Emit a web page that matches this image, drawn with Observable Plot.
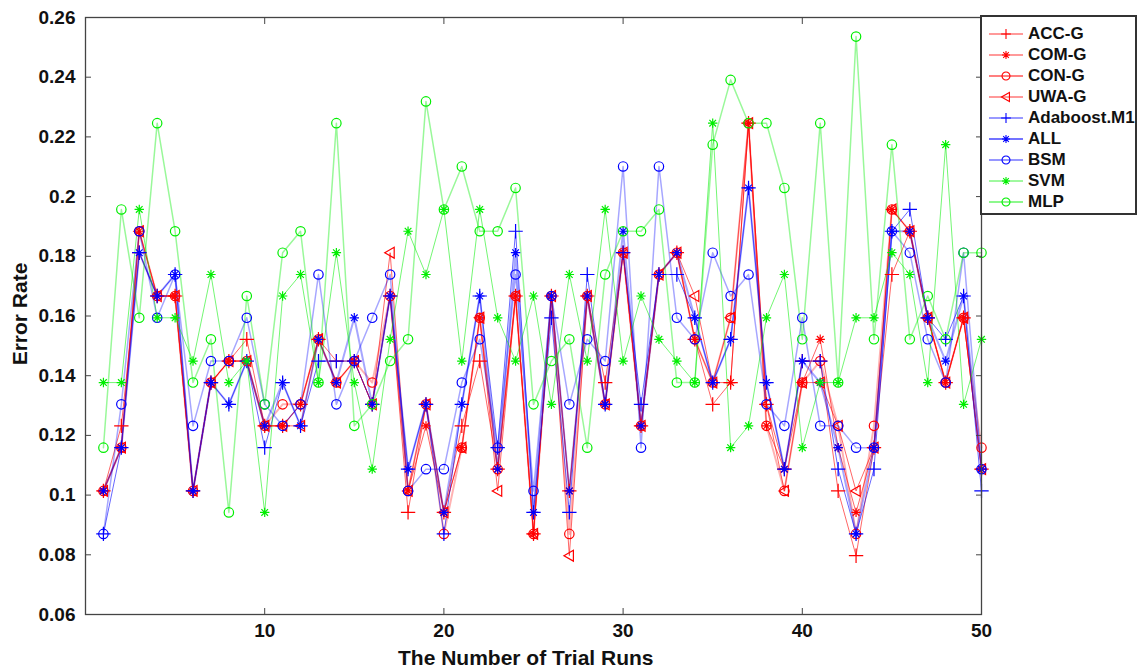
<!DOCTYPE html>
<html><head><meta charset="utf-8">
<script src="https://cdn.jsdelivr.net/npm/d3@7"></script>
<script src="https://cdn.jsdelivr.net/npm/@observablehq/plot@0.6"></script>
<style>
body{margin:0;background:#fff;}
#wrap{position:relative;width:1137px;height:672px;font-family:"Liberation Sans",Arial,sans-serif;font-weight:bold;}
#chart{position:absolute;left:0;top:0;}
.lab{position:absolute;font-size:21px;color:#111;white-space:nowrap;}
#legend{position:absolute;left:980px;top:15px;width:153px;height:196px;border:2px solid #333;background:#fff;}
.row{position:absolute;left:0;height:21px;display:flex;align-items:center;font-size:17px;color:#111;}
.row svg{margin-left:6px;margin-right:4px;}
</style></head><body>
<div id="wrap"><div id="chart"></div>
<div class="lab" id="ylab" style="left:-31px;top:302px;transform:rotate(-90deg);">Error Rate</div>
<div class="lab" id="xlab" style="left:398px;top:646px;">The Number of Trial Runs</div>
<div id="legend"></div>
</div>
<script>
const runs = [1,2,3,4,5,6,7,8,9,10,11,12,13,14,15,16,17,18,19,20,21,22,23,24,25,26,27,28,29,30,31,32,33,34,35,36,37,38,39,40,41,42,43,44,45,46,47,48,49,50];
const xTicks = [10,20,30,40,50];
const yTicks = [0.06,0.08,0.1,0.12,0.14,0.16,0.18,0.2,0.22,0.24,0.26];
const seriesNames = ["ACC-G","COM-G","CON-G","UWA-G","Adaboost.M1","ALL","BSM","SVM","MLP"];

const accG = [0.1014,0.1232,0.1812,0.1667,0.1667,0.1014,0.1377,0.1449,0.1522,0.1232,
              0.1232,0.1304,0.1522,0.1449,0.1449,0.1304,0.1667,0.0942,0.1304,0.0942,
              0.1232,0.1449,0.1087,0.1667,0.0870,0.1667,0.1014,0.1667,0.1377,0.1812,
              0.1232,0.1739,0.1812,0.1522,0.1304,0.1377,0.2246,0.1304,0.1087,0.1449,
              0.1449,0.1014,0.0797,0.1159,0.1739,0.1884,0.1594,0.1377,0.1594,0.1087];
const comG = [0.1014,0.1159,0.1884,0.1667,0.1667,0.1014,0.1377,0.1449,0.1449,0.1232,
              0.1232,0.1304,0.1522,0.1377,0.1449,0.1304,0.1667,0.1014,0.1232,0.0942,
              0.1159,0.1594,0.1087,0.1667,0.0870,0.1667,0.1014,0.1667,0.1304,0.1812,
              0.1232,0.1739,0.1812,0.1522,0.1377,0.1377,0.2246,0.1232,0.1087,0.1377,
              0.1522,0.1159,0.0942,0.1159,0.1957,0.1884,0.1594,0.1377,0.1594,0.1087];
const conG = [0.1014,0.1159,0.1884,0.1667,0.1667,0.1014,0.1377,0.1449,0.1449,0.1232,
              0.1304,0.1304,0.1522,0.1377,0.1449,0.1377,0.1667,0.1014,0.1304,0.0870,
              0.1159,0.1594,0.1087,0.1667,0.0870,0.1667,0.0870,0.1667,0.1304,0.1812,
              0.1232,0.1739,0.1812,0.1522,0.1377,0.1594,0.2246,0.1232,0.1014,0.1377,
              0.1449,0.1232,0.0870,0.1232,0.1957,0.1884,0.1594,0.1377,0.1594,0.1159];
const uwaG = [0.1014,0.1159,0.1884,0.1667,0.1667,0.1014,0.1377,0.1449,0.1449,0.1232,
              0.1232,0.1232,0.1522,0.1377,0.1449,0.1304,0.1812,0.1014,0.1304,0.0942,
              0.1159,0.1594,0.1014,0.1667,0.0870,0.1667,0.0797,0.1667,0.1304,0.1812,
              0.1232,0.1739,0.1812,0.1667,0.1377,0.1594,0.2246,0.1304,0.1014,0.1377,
              0.1377,0.1232,0.1014,0.1159,0.1957,0.1884,0.1594,0.1377,0.1594,0.1087];
const adaboost = [0.0870,0.1159,0.1812,0.1667,0.1739,0.1014,0.1377,0.1304,0.1449,0.1159,
              0.1377,0.1232,0.1449,0.1449,0.1449,0.1304,0.1667,0.1087,0.1304,0.0870,
              0.1304,0.1667,0.1159,0.1884,0.0942,0.1594,0.0942,0.1739,0.1304,0.1812,
              0.1304,0.1739,0.1739,0.1594,0.1377,0.1522,0.2029,0.1377,0.1087,0.1449,
              0.1449,0.1087,0.0870,0.1087,0.1884,0.1957,0.1594,0.1522,0.1667,0.1014];
const allS = [0.1014,0.1159,0.1812,0.1667,0.1739,0.1014,0.1377,0.1304,0.1449,0.1232,
              0.1377,0.1232,0.1522,0.1377,0.1594,0.1304,0.1667,0.1087,0.1304,0.0942,
              0.1304,0.1667,0.1087,0.1812,0.0942,0.1667,0.1014,0.1667,0.1304,0.1884,
              0.1232,0.1739,0.1812,0.1594,0.1377,0.1522,0.2029,0.1377,0.1087,0.1449,
              0.1377,0.1159,0.0870,0.1159,0.1884,0.1884,0.1594,0.1449,0.1667,0.1087];
const bsm = [0.0870,0.1304,0.1884,0.1594,0.1739,0.1232,0.1449,0.1449,0.1594,0.1304,
              0.1232,0.1304,0.1739,0.1304,0.1449,0.1594,0.1739,0.1014,0.1087,0.1087,
              0.1377,0.1522,0.1159,0.1739,0.1014,0.1667,0.1304,0.1522,0.1449,0.2101,
              0.1159,0.2101,0.1594,0.1522,0.1812,0.1667,0.1739,0.1304,0.1232,0.1594,
              0.1232,0.1232,0.1159,0.1159,0.1884,0.1812,0.1522,0.1377,0.1812,0.1087];
const svm = [0.1377,0.1377,0.1957,0.1594,0.1594,0.1449,0.1739,0.1377,0.1449,0.0942,
              0.1667,0.1739,0.1377,0.1812,0.1377,0.1087,0.1522,0.1884,0.1739,0.1957,
              0.1449,0.1957,0.1594,0.1449,0.1667,0.1304,0.1739,0.1449,0.1957,0.1449,
              0.1667,0.1522,0.1449,0.1377,0.2246,0.1159,0.1232,0.1594,0.1739,0.1159,
              0.1377,0.1377,0.1594,0.1594,0.1812,0.1739,0.1377,0.2174,0.1304,0.1522];
const mlp = [0.1159,0.1957,0.1594,0.2246,0.1884,0.1377,0.1522,0.0942,0.1667,0.1304,
              0.1812,0.1884,0.1377,0.2246,0.1232,0.1304,0.1449,0.1522,0.2319,0.1957,
              0.2101,0.1884,0.1884,0.2029,0.1304,0.1449,0.1522,0.1159,0.1739,0.1884,
              0.1884,0.1957,0.1377,0.1377,0.2174,0.2391,0.2246,0.2246,0.2029,0.1522,
              0.2246,0.1377,0.2536,0.1522,0.2174,0.1522,0.1667,0.1522,0.1812,0.1812];

const triangleLeft = {
  draw(ctx, size) {
    const r = Math.sqrt(size / Math.PI) * 1.15;
    ctx.moveTo(-r, 0); ctx.lineTo(r * 0.75, -r); ctx.lineTo(r * 0.75, r); ctx.closePath();
  }
};
const starSym = {
  draw(ctx, size) {
    const r = Math.sqrt(size / Math.PI);
    for (let i = 0; i < 4; i++) {
      const a = i * Math.PI / 4;
      ctx.moveTo(-r * Math.cos(a), -r * Math.sin(a));
      ctx.lineTo(r * Math.cos(a), r * Math.sin(a));
    }
  }
};

const styles = [
  {values: accG, color: "#ff0000", symbol: "plus", lw: 1, lo: 0.6},
  {values: comG, color: "#ff0000", symbol: starSym, lw: 1, lo: 0.6},
  {values: conG, color: "#ff0000", symbol: "circle", lw: 2, lo: 0.3},
  {values: uwaG, color: "#ff0000", symbol: triangleLeft, lw: 1, lo: 0.6},
  {values: adaboost, color: "#0000ff", symbol: "plus", lw: 1, lo: 0.6},
  {values: allS, color: "#0000ff", symbol: starSym, lw: 2, lo: 0.35},
  {values: bsm, color: "#0000ff", symbol: "circle", lw: 1.5, lo: 0.35},
  {values: svm, color: "#00ee00", symbol: starSym, lw: 1, lo: 0.55},
  {values: mlp, color: "#00ee00", symbol: "circle", lw: 1.5, lo: 0.4}
];

const marks = [];
styles.forEach((s, i) => {
  const data = runs.map((r, j) => ({run: r, value: s.values[j], series: seriesNames[i]}));
  marks.push(Plot.line(data, {x: "run", y: "value", stroke: s.color, strokeOpacity: s.lo, strokeWidth: s.lw}));
});
styles.forEach((s, i) => {
  const data = runs.map((r, j) => ({run: r, value: s.values[j], series: seriesNames[i]}));
  marks.push(Plot.dot(data, {x: "run", y: "value", symbol: () => s.symbol, r: 4.7, stroke: s.color, fill: "none", strokeWidth: 1.2}));
});

const chart = Plot.plot({
  width: 1137, height: 672,
  marginLeft: 85, marginRight: 156, marginTop: 17, marginBottom: 58,
  x: {domain: [0, 50]},
  y: {domain: [0.06, 0.26]},
  symbol: {type: "identity"},
  style: {fontFamily: "'Liberation Sans', Arial, sans-serif", fontWeight: "bold", fontSize: "19px", color: "#111", background: "#fff"},
  marks: [
    ...marks,
    Plot.frame({stroke: "#444", strokeWidth: 1.3}),
    Plot.axisX({ticks: xTicks, tickSize: 0, tickPadding: 9, label: null, fontSize: 19, tickFormat: d => String(d)}),
    Plot.axisX({anchor: "bottom", ticks: xTicks, tickSize: -6, tickFormat: () => "", label: null, stroke: "#444"}),
    Plot.axisX({anchor: "top", ticks: xTicks, tickSize: -6, tickFormat: () => "", label: null, stroke: "#444"}),
    Plot.axisY({ticks: yTicks, tickSize: 0, tickPadding: 10, label: null, fontSize: 19, tickFormat: d => String(d)}),
    Plot.axisY({anchor: "left", ticks: yTicks, tickSize: -6, tickFormat: () => "", label: null, stroke: "#444"}),
    Plot.axisY({anchor: "right", ticks: yTicks, tickSize: -6, tickFormat: () => "", label: null, stroke: "#444"})
  ]
});
document.getElementById("chart").appendChild(chart);

// legend
const legend = document.getElementById("legend");
styles.forEach((s, i) => {
  const row = document.createElement("div");
  row.className = "row";
  row.style.top = (6 + i * 21.1) + "px";
  const svg = d3.create("svg").attr("width", 36).attr("height", 20);
  svg.append("line").attr("x1", 1).attr("x2", 35).attr("y1", 10).attr("y2", 10)
    .attr("stroke", s.color).attr("stroke-opacity", Math.min(1, s.lo + 0.2)).attr("stroke-width", s.lw);
  const sym = typeof s.symbol === "string" ? (s.symbol === "plus" ? d3.symbolPlus : d3.symbolCircle) : s.symbol;
  const path = d3.symbol(sym, Math.PI * 4.6 * 4.6 * (sym === d3.symbolPlus ? 0.5 : 0.75))();
  svg.append("path").attr("d", path).attr("transform", "translate(18,10)")
    .attr("fill", "none").attr("stroke", s.color).attr("stroke-width", 1.1);
  row.appendChild(svg.node());
  const t = document.createElement("span");
  t.textContent = seriesNames[i];
  row.appendChild(t);
  legend.appendChild(row);
});
</script>
</body></html>
